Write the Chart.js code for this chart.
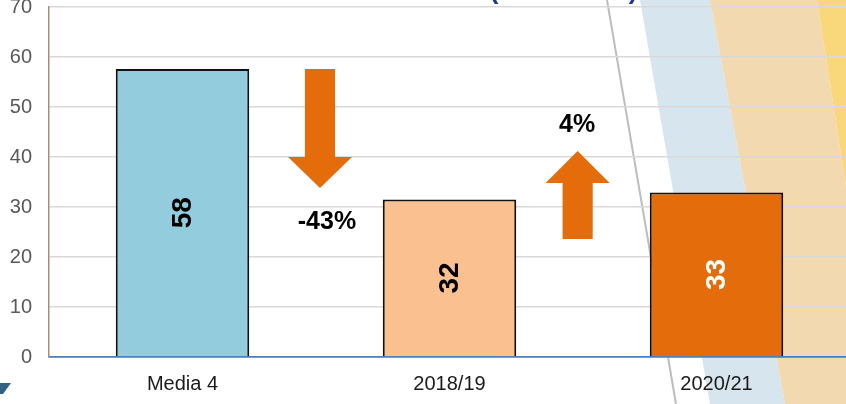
<!DOCTYPE html>
<html>
<head>
<meta charset="utf-8">
<script src="https://cdn.jsdelivr.net/npm/chart.js@4"></script>
<style>
  html, body { margin: 0; padding: 0; background: #fff; overflow: hidden; }
  #wrap { position: relative; width: 850px; height: 404px; }
</style>
</head>
<body>
<div id="wrap"><canvas id="chart"></canvas></div>
<script>
// data
const categories = ['Media 4', '2018/19', '2020/21'];
const values = [57.6, 31.5, 32.9];
const valueLabels = ['58', '32', '33'];
const changeLabels = ['-43%', '4%'];
const yTicks = [0, 10, 20, 30, 40, 50, 60, 70];

const barColors = ['#93CDDD', '#FAC090', '#E46C0A'];
const labelColors = ['#000', '#000', '#fff'];
const ORANGE = '#E46C0A';

// background decoration: slanted stripes + thin grey line, title remnants
const backdrop = {
  id: 'backdrop',
  beforeDraw(chart) {
    const ctx = chart.ctx;
    const H = chart.height;
    ctx.save();
    const band = (pts, color) => {
      ctx.beginPath();
      ctx.moveTo(pts[0][0], pts[0][1]);
      pts.slice(1).forEach(p => ctx.lineTo(p[0], p[1]));
      ctx.closePath();
      ctx.fillStyle = color;
      ctx.fill();
    };
    band([[640, 0], [710, 0], [785, H], [710, H]], '#D7E6EE');
    band([[710, 0], [817, 0], [880, H], [785, H]], '#F2D9B0');
    band([[817, 0], [900, 0], [900, H], [880, H]], '#F8D87A');

    ctx.strokeStyle = '#BDBDBD';
    ctx.lineWidth = 2;
    ctx.beginPath();
    ctx.moveTo(607, 0);
    ctx.lineTo(676, H);
    ctx.stroke();

    // bottom of a cut-off title
    ctx.fillStyle = '#1F3C88';
    ctx.font = 'bold 26px "Liberation Sans", Arial, sans-serif';
    ctx.textAlign = 'center';
    ctx.textBaseline = 'alphabetic';
    ctx.fillText('(', 494, -1);
    ctx.fillText(')', 633, -1);

    // corner shape lower left
    band([[0, 383], [11, 383], [3, 394], [0, 394]], '#2F6480');
    ctx.restore();
  }
};

// rotated value labels inside the bars
const barLabels = {
  id: 'barLabels',
  afterDatasetsDraw(chart) {
    const ctx = chart.ctx;
    const meta = chart.getDatasetMeta(0);
    ctx.save();
    ctx.font = 'bold 28px "Liberation Sans", Arial, sans-serif';
    ctx.textAlign = 'center';
    ctx.textBaseline = 'middle';
    meta.data.forEach((bar, i) => {
      ctx.save();
      ctx.translate(bar.x, (bar.y + bar.base) / 2);
      ctx.rotate(-Math.PI / 2);
      ctx.fillStyle = labelColors[i];
      ctx.fillText(valueLabels[i], 0, 1);
      ctx.restore();
    });
    ctx.restore();
  }
};

// change arrows between the bars
const arrows = {
  id: 'arrows',
  afterDatasetsDraw(chart) {
    const ctx = chart.ctx;
    const x = chart.scales.x, y = chart.scales.y;
    const cw = x.getPixelForValue(1) - x.getPixelForValue(0);
    const shaft = cw * 0.113 / 2, head = cw * 0.24 / 2;

    const drawArrow = (at, tail, neck, tip) => {
      const cx = x.getPixelForValue(at);
      const yt = y.getPixelForValue(tail), yn = y.getPixelForValue(neck), yp = y.getPixelForValue(tip);
      ctx.beginPath();
      ctx.moveTo(cx - shaft, yt);
      ctx.lineTo(cx + shaft, yt);
      ctx.lineTo(cx + shaft, yn);
      ctx.lineTo(cx + head, yn);
      ctx.lineTo(cx, yp);
      ctx.lineTo(cx - head, yn);
      ctx.lineTo(cx - shaft, yn);
      ctx.closePath();
      ctx.fillStyle = ORANGE;
      ctx.fill();
    };
    ctx.save();
    drawArrow(0.515, 57.6, 40, 33.8);
    drawArrow(1.48, 23.6, 34.8, 41.2);

    ctx.fillStyle = '#000';
    ctx.font = 'bold 25px "Liberation Sans", Arial, sans-serif';
    ctx.textAlign = 'center';
    ctx.textBaseline = 'middle';
    ctx.fillText(changeLabels[0], x.getPixelForValue(0.541), y.getPixelForValue(27));
    ctx.fillText(changeLabels[1], x.getPixelForValue(1.478), y.getPixelForValue(46.4));
    ctx.restore();
  }
};

new Chart(document.getElementById('chart'), {
  type: 'bar',
  data: {
    labels: categories,
    datasets: [{
      data: values,
      backgroundColor: barColors,
      borderColor: '#111',
      borderWidth: 2,
      categoryPercentage: 1,
      barPercentage: 0.5
    }]
  },
  options: {
    responsive: true,
    maintainAspectRatio: false,
    animation: false,
    layout: { padding: 0 },
    plugins: {
      legend: { display: false },
      tooltip: { enabled: false }
    },
    scales: {
      x: {
        grid: { display: false },
        border: { color: '#4A7EC0', width: 1.5 },
        ticks: {
          color: '#1a1a1a',
          padding: 7,
          font: { family: '"Liberation Sans", Arial, sans-serif', size: 20 }
        },
        afterFit: s => { s.height = 47; }
      },
      y: {
        min: 0,
        max: 70,
        afterBuildTicks: s => { s.ticks = yTicks.map(v => ({ value: v })); },
        grid: {
          color: c => c.tick && c.tick.value === 0 ? '#4A7EC0' : '#D9D9D9',
          lineWidth: 1.5,
          drawTicks: true,
          tickLength: 17,
          tickColor: 'rgba(0,0,0,0)'
        },
        border: { color: '#A88B78', width: 1.5 },
        ticks: {
          color: '#595959',
          padding: 0,
          font: { family: '"Liberation Sans", Arial, sans-serif', size: 20, lineHeight: 0.7 }
        },
        afterFit: s => { s.width = 49; }
      }
    }
  },
  plugins: [backdrop, barLabels, arrows]
});
</script>
</body>
</html>
